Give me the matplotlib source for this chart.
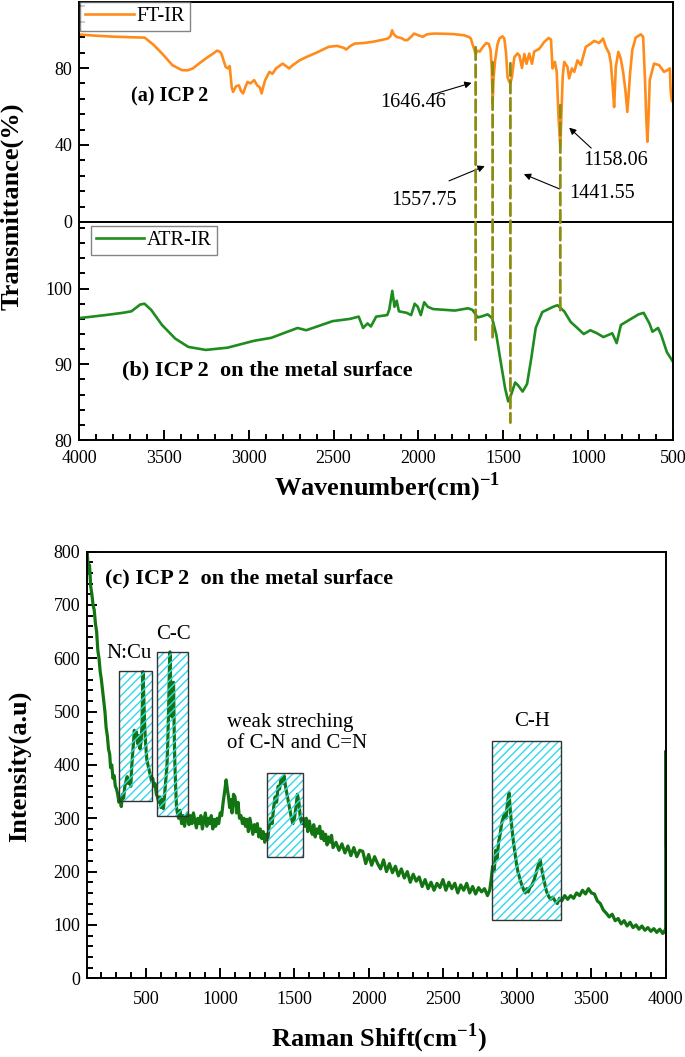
import matplotlib
matplotlib.use("Agg")
import matplotlib.pyplot as plt
from matplotlib.patches import Rectangle, ConnectionPatch
from matplotlib.ticker import MultipleLocator

plt.rcParams['font.family'] = ['Liberation Serif', 'DejaVu Serif']
plt.rcParams['mathtext.fontset'] = 'custom'
plt.rcParams['mathtext.rm'] = 'Liberation Serif'
plt.rcParams['mathtext.bf'] = 'Liberation Serif:bold'
plt.rcParams['hatch.linewidth'] = 1.0

# ---- FT-IR spectrum (panel a) ----
ftir_x = [4000, 3900, 3800, 3700, 3613, 3560, 3510, 3450, 3394, 3360, 3329, 3290, 3252, 3210,
          3187, 3170, 3161, 3145, 3136, 3123, 3112, 3100, 3092, 3075, 3058, 3045, 3033, 3020,
          3007, 2990, 2968, 2950, 2935, 2924, 2915, 2903, 2890, 2878, 2860, 2839, 2820, 2800,
          2780, 2762, 2740, 2700, 2658, 2600, 2529, 2480, 2440, 2426, 2400, 2375, 2320, 2271,
          2220, 2181, 2165, 2155, 2145, 2129, 2100, 2080, 2065, 2040, 2026, 2000, 1975, 1950,
          1910, 1850, 1790, 1730, 1700, 1691, 1680, 1670, 1663, 1650, 1639, 1620, 1600, 1585,
          1575, 1568, 1563, 1557, 1548, 1535, 1523, 1505, 1494, 1484, 1475, 1465, 1458, 1449,
          1435, 1416, 1405, 1390, 1376, 1363, 1347, 1331, 1318, 1288, 1259, 1233, 1219, 1210,
          1200, 1196, 1185, 1175, 1164, 1158, 1150, 1141, 1122, 1112, 1096, 1082, 1063, 1043,
          1014, 984, 965, 935, 912, 896, 876, 866, 855, 847, 837, 822, 808, 794, 780, 769, 760,
          753, 740, 720, 690, 676, 665, 658, 651, 644, 637, 612, 582, 553, 533, 519, 514, 508,
          500]
ftir_y = [97.4, 96.8, 96.3, 96.0, 95.8, 92.0, 87.5, 81.5, 78.9, 78.8, 79.8, 82.5, 85.0, 87.5,
          89.0, 88.5, 87.5, 83.0, 80.6, 79.8, 81.0, 70.0, 67.6, 70.5, 71.0, 68.0, 66.8, 70.0,
          72.8, 72.0, 73.7, 71.0, 70.0, 66.8, 70.0, 73.7, 76.0, 78.0, 77.0, 79.8, 81.0, 82.3,
          81.0, 79.8, 81.5, 84.0, 85.8, 88.0, 91.0, 91.5, 90.5, 89.6, 91.5, 92.7, 93.0, 93.6,
          94.5, 95.3, 96.5, 99.6, 97.5, 96.2, 95.5, 94.5, 94.5, 96.5, 97.9, 97.0, 96.2, 97.5,
          97.9, 97.8, 97.6, 97.0, 96.0, 95.3, 92.0, 89.3, 87.5, 89.0, 88.5, 91.0, 93.0, 92.5,
          89.3, 80.0, 61.6, 75.0, 84.0, 92.0, 95.3, 96.5, 95.3, 88.0, 75.4, 72.8, 72.0, 75.4,
          85.6, 87.6, 86.5, 80.0, 87.3, 82.2, 87.5, 82.2, 88.5, 90.0, 93.5, 95.6, 94.8, 79.8,
          82.0, 83.2, 78.0, 55.0, 39.0, 55.0, 75.4, 83.2, 80.6, 74.6, 79.8, 78.0, 84.0, 81.5,
          91.0, 92.7, 94.1, 93.0, 95.3, 91.0, 87.5, 82.3, 70.0, 59.7, 80.6, 88.4, 84.9, 78.0,
          68.0, 57.2, 68.0, 77.2, 89.3, 95.8, 97.5, 96.2, 73.7, 55.0, 41.7, 55.0, 73.7, 82.3,
          81.5, 78.0, 78.9, 79.8, 68.5, 63.3, 62.0]

# ---- ATR-IR spectrum (panel b) ----
atr_x = [4000, 3845, 3742, 3691, 3639, 3614, 3575, 3511, 3433, 3356, 3253, 3124, 2970, 2867,
         2712, 2661, 2506, 2403, 2352, 2326, 2300, 2280, 2249, 2184, 2172, 2154, 2141, 2128,
         2115, 2069, 2043, 2022, 2004, 1986, 1966, 1945, 1914, 1785, 1708, 1682, 1651, 1631,
         1592, 1566, 1541, 1515, 1489, 1471, 1455, 1430, 1412, 1386, 1360, 1335, 1309, 1270,
         1206, 1181, 1141, 1103, 1064, 1026, 987, 948, 910, 858, 832, 807, 755, 703, 673, 639,
         621, 588, 570, 536, 505]
atr_y = [96.1, 96.5, 96.8, 97.0, 97.9, 98.0, 97.2, 95.2, 93.4, 92.3, 91.9, 92.2, 93.1, 93.5,
         94.8, 94.5, 95.7, 96.0, 96.3, 94.8, 95.4, 95.0, 96.3, 96.5, 97.2, 99.7, 97.6, 98.4,
         97.0, 96.8, 96.5, 98.0, 97.6, 96.5, 98.2, 97.6, 97.3, 97.1, 97.4, 97.2, 96.2, 96.3,
         96.6, 96.1, 93.9, 90.3, 86.8, 85.1, 85.9, 87.6, 87.2, 86.4, 87.4, 90.8, 94.8, 96.9,
         97.6, 97.8, 97.0, 95.6, 94.8, 94.0, 94.5, 94.1, 93.6, 94.1, 92.8, 95.2, 95.9, 96.6,
         96.8, 95.4, 94.3, 94.8, 93.9, 91.6, 90.5]

# band positions marked with dashed lines and their labels
band_x = [1663, 1563, 1458, 1164]
band_top = [90.8, 83.0, 82.5, 60.7]      # end in panel a
band_bottom = [92.8, 93.5, 82.3, 96.8]   # end in panel b
band_labels = ["1646.46", "1557.75", "1441.55", "1158.06"]
label_xy = [(2029, 62.3), (1965, 11.4), (918, 15.0), (841, 32.2)]
arrow_tail = [(1929, 65.9), (1835, 20.8), (1153, 16.6), (970, 37.4)]
arrow_tip = [(1671, 72.7), (1594, 29.6), (1394, 25.4), (1124, 50.0)]

# ---- Raman spectrum (panel c) ----
raman = [
    (105, 800), (112, 760), (120, 775), (128, 735), (136, 720), (144, 700), (152, 690),
    (160, 665), (168, 650), (176, 615), (184, 600), (192, 575), (200, 560), (208, 540),
    (216, 520), (224, 500), (232, 470), (240, 455), (248, 430), (256, 420), (262, 395),
    (270, 400), (278, 375), (286, 380), (294, 360), (302, 355), (310, 345), (318, 330),
    (326, 340), (334, 322), (342, 345), (350, 338), (358, 360), (366, 370), (374, 378),
    (382, 365), (390, 372), (398, 360), (404, 395), (410, 420), (416, 440), (422, 465),
    (428, 450), (436, 462), (444, 440), (452, 455), (460, 430), (468, 445), (474, 480),
    (480, 575), (486, 520), (492, 470), (498, 440), (506, 410), (514, 400), (522, 390),
    (530, 380), (538, 370), (546, 375), (554, 360), (562, 365), (570, 345), (578, 340),
    (586, 330), (594, 340), (602, 320), (610, 335), (618, 318), (626, 345), (634, 370),
    (642, 400), (648, 450), (654, 520), (658, 580), (662, 612), (666, 560), (670, 520),
    (676, 490), (682, 540), (686, 555), (690, 470), (694, 410), (700, 360), (706, 320),
    (712, 310), (720, 300), (730, 315), (740, 290), (750, 305), (760, 285), (770, 300),
    (780, 310), (790, 288), (800, 305), (810, 290), (820, 310), (830, 295), (840, 282),
    (850, 300), (860, 290), (870, 305), (880, 280), (890, 295), (900, 310), (910, 285),
    (920, 300), (930, 290), (940, 305), (950, 280), (960, 298), (970, 285), (980, 300),
    (990, 290), (1000, 310), (1010, 305), (1020, 330), (1030, 350), (1040, 372), (1048, 355),
    (1056, 340), (1064, 320), (1072, 335), (1080, 310), (1090, 345), (1100, 340), (1110, 310),
    (1120, 330), (1130, 300), (1140, 305), (1150, 290), (1160, 300), (1170, 285), (1180, 298),
    (1190, 275), (1200, 300), (1210, 285), (1220, 270), (1230, 288), (1240, 275), (1250, 290),
    (1260, 265), (1270, 280), (1280, 262), (1290, 275), (1300, 255), (1310, 270), (1320, 260),
    (1330, 285), (1340, 300), (1350, 290), (1360, 320), (1370, 340), (1380, 330), (1390, 360),
    (1400, 355), (1410, 375), (1420, 365), (1430, 380), (1440, 360), (1450, 345), (1460, 330),
    (1470, 315), (1480, 300), (1490, 290), (1500, 300), (1510, 320), (1520, 345), (1530, 330),
    (1540, 300), (1550, 290), (1560, 300), (1570, 285), (1580, 300), (1590, 275), (1600, 295),
    (1610, 280), (1620, 270), (1630, 288), (1640, 265), (1650, 280), (1660, 272), (1670, 285),
    (1680, 262), (1690, 275), (1700, 258), (1710, 270), (1720, 250), (1730, 265), (1740, 255),
    (1750, 268), (1760, 245), (1780, 255), (1800, 240), (1820, 252), (1840, 235), (1860, 248),
    (1880, 230), (1900, 245), (1920, 228), (1940, 240), (1960, 238), (1980, 215), (2000, 232),
    (2020, 212), (2040, 228), (2060, 215), (2080, 205), (2100, 222), (2120, 200), (2140, 215),
    (2160, 198), (2180, 210), (2200, 192), (2220, 205), (2240, 188), (2260, 200), (2280, 180),
    (2300, 195), (2320, 182), (2340, 190), (2360, 172), (2380, 185), (2400, 168), (2420, 180),
    (2440, 165), (2460, 178), (2480, 170), (2500, 185), (2520, 165), (2540, 180), (2560, 168),
    (2580, 178), (2600, 160), (2620, 175), (2640, 165), (2660, 178), (2680, 160), (2700, 172),
    (2720, 158), (2740, 170), (2760, 162), (2780, 168), (2800, 155), (2815, 165), (2825, 185),
    (2835, 210), (2845, 200), (2855, 240), (2865, 225), (2875, 255), (2885, 270), (2895, 290),
    (2905, 300), (2915, 310), (2925, 300), (2935, 330), (2945, 348), (2955, 310), (2965, 280),
    (2975, 255), (2985, 235), (2995, 215), (3005, 200), (3015, 190), (3025, 180), (3035, 172),
    (3045, 165), (3055, 160), (3065, 168), (3075, 162), (3085, 170), (3100, 175), (3115, 185),
    (3125, 195), (3135, 205), (3145, 215), (3155, 222), (3165, 205), (3175, 190), (3185, 178),
    (3195, 165), (3205, 158), (3215, 152), (3225, 148), (3240, 152), (3255, 145), (3270, 140),
    (3285, 150), (3300, 145), (3320, 155), (3340, 148), (3360, 155), (3380, 150), (3400, 160),
    (3420, 155), (3440, 165), (3460, 158), (3480, 168), (3500, 160), (3520, 158), (3540, 145),
    (3560, 140), (3580, 128), (3600, 122), (3620, 115), (3640, 120), (3660, 108), (3680, 112),
    (3700, 102), (3720, 108), (3740, 98), (3760, 105), (3780, 95), (3800, 100), (3820, 92),
    (3840, 98), (3860, 90), (3880, 95), (3900, 88), (3920, 93), (3940, 86), (3960, 92),
    (3980, 84), (3995, 90), (4000, 85), (4000, 425), (4000, 250)]
raman_x = [p[0] for p in raman]
raman_y = [p[1] for p in raman]

# highlighted Raman regions: (x0, x1, y0, y1), label, label position
box_ranges = [(319, 543, 333, 576), (572, 784, 304, 611), (1316, 1557, 228, 384), (2829, 3292, 109, 445)]
box_labels = ["N:Cu", "C-C", "weak streching\nof C-N and C=N", "C-H"]
box_label_xy = [(386, 609), (683, 644), (1046, 460), (3098, 481)]

orange = '#FF8C1A'
green = '#1E8C1E'
dark_green = '#127512'
olive = '#8C8C10'
cyan = '#30D8EC'

fig = plt.figure(figsize=(6.85, 10.57), dpi=100)
ax_a = fig.add_axes([0.1153, 0.7900, 0.8672, 0.2081])
ax_b = fig.add_axes([0.1153, 0.5837, 0.8672, 0.2063])
ax_c = fig.add_axes([0.1274, 0.0745, 0.8444, 0.4036])

for ax in (ax_a, ax_b, ax_c):
    for s in ax.spines.values():
        s.set_linewidth(1.4)
    ax.tick_params(which='both', direction='in', top=False, right=False, labelsize=13, width=1.4)
    ax.tick_params(which='major', length=7)
    ax.tick_params(which='minor', length=4)
    ax.tick_params(axis='x', pad=7)
    ax.tick_params(axis='y', pad=5)

# panel a
ax_a.plot(ftir_x, ftir_y, color=orange, lw=1.9, label='FT-IR')
ax_a.set_xlim(4000, 500)
ax_a.set_ylim(0, 114.3)
ax_a.set_yticks([0, 40, 80])
ax_a.yaxis.set_minor_locator(MultipleLocator(8))
ax_a.tick_params(axis='x', which='both', bottom=False, labelbottom=False)
ax_a.text(3694, 65.4, "(a) ICP 2", fontsize=14.5, fontweight='bold', va='center', ha='left')
leg = ax_a.legend(loc='upper left', bbox_to_anchor=(0.002, 0.999), fontsize=14.5,
                  handlelength=2.4, handletextpad=0.15, borderpad=0.25, fancybox=False,
                  borderaxespad=0)
leg.get_frame().set_edgecolor('#666666')
leg.get_frame().set_linewidth(1.0)

for lab, (tx, ty), tail, tip in zip(band_labels, label_xy, arrow_tail, arrow_tip):
    ax_a.text(tx, ty, lab, fontsize=14.5, ha='center', va='center')
    ax_a.annotate('', xy=tip, xytext=tail,
                  arrowprops=dict(arrowstyle='-|>', color='black', lw=0.8, mutation_scale=10))

# panel b
ax_b.plot(atr_x, atr_y, color=green, lw=1.9, label='ATR-IR')
ax_b.set_xlim(4000, 500)
ax_b.set_ylim(80, 108.8)
ax_b.set_yticks([80, 90, 100])
ax_b.yaxis.set_minor_locator(MultipleLocator(2))
ax_b.set_xticks([4000, 3500, 3000, 2500, 2000, 1500, 1000, 500])
ax_b.xaxis.set_minor_locator(MultipleLocator(100))
ax_b.text(3747, 89.25, "(b) ICP 2  on the metal surface", fontsize=16, fontweight='bold',
          va='center', ha='left')
leg = ax_b.legend(loc='upper left', bbox_to_anchor=(0.02, 0.982), fontsize=14.5,
                  handlelength=2.4, handletextpad=0.15, borderpad=0.25, fancybox=False,
                  borderaxespad=0)
leg.get_frame().set_edgecolor('#666666')
leg.get_frame().set_linewidth(1.0)

# dashed band lines crossing panels a and b
for bx, ya, yb in zip(band_x, band_top, band_bottom):
    con = ConnectionPatch(xyA=(bx, ya), coordsA=ax_a.transData, xyB=(bx, yb),
                          coordsB=ax_b.transData, color=olive, lw=2.0,
                          linestyle=(0, (4.5, 1.8)), zorder=5)
    fig.add_artist(con)

# panel c
ax_c.plot(raman_x, raman_y, color=dark_green, lw=2.3, zorder=2)
ax_c.set_xlim(105, 4000)
ax_c.set_ylim(0, 800)
ax_c.set_xticks([500, 1000, 1500, 2000, 2500, 3000, 3500, 4000])
ax_c.xaxis.set_minor_locator(MultipleLocator(100))
ax_c.set_yticks(range(0, 801, 100))
ax_c.yaxis.set_minor_locator(MultipleLocator(20))
ax_c.tick_params(axis='x', pad=9)
ax_c.text(224, 750, "(c) ICP 2  on the metal surface", fontsize=16, fontweight='bold',
          va='center', ha='left')

for (x0, x1, y0, y1), lab, (lx, ly) in zip(box_ranges, box_labels, box_label_xy):
    ax_c.add_patch(Rectangle((x0, y0), x1 - x0, y1 - y0, fill=False, hatch='////',
                             edgecolor=cyan, lw=0, zorder=3))
    ax_c.add_patch(Rectangle((x0, y0), x1 - x0, y1 - y0, fill=False,
                             edgecolor='#333333', lw=1.0, zorder=4))
    ha = 'left' if '\n' in lab else 'center'
    ax_c.text(lx, ly, lab, fontsize=15, ha=ha, va='center', linespacing=1.2)

# axis titles
fig.text(0.0175, 0.805, "Transmittance(%)", rotation=90, fontsize=19, fontweight='bold',
         ha='center', va='center')
fig.text(0.565, 0.539, r"Wavenumber(cm)$^{\mathbf{-1}}$", fontsize=19, fontweight='bold',
         ha='center', va='center')
fig.text(0.028, 0.275, "Intensity(a.u)", rotation=90, fontsize=19, fontweight='bold',
         ha='center', va='center')
fig.text(0.553, 0.018, r"Raman Shift(cm$^{\mathbf{-1}}$)", fontsize=19, fontweight='bold',
         ha='center', va='center')

fig.savefig("out.png", dpi=100)
